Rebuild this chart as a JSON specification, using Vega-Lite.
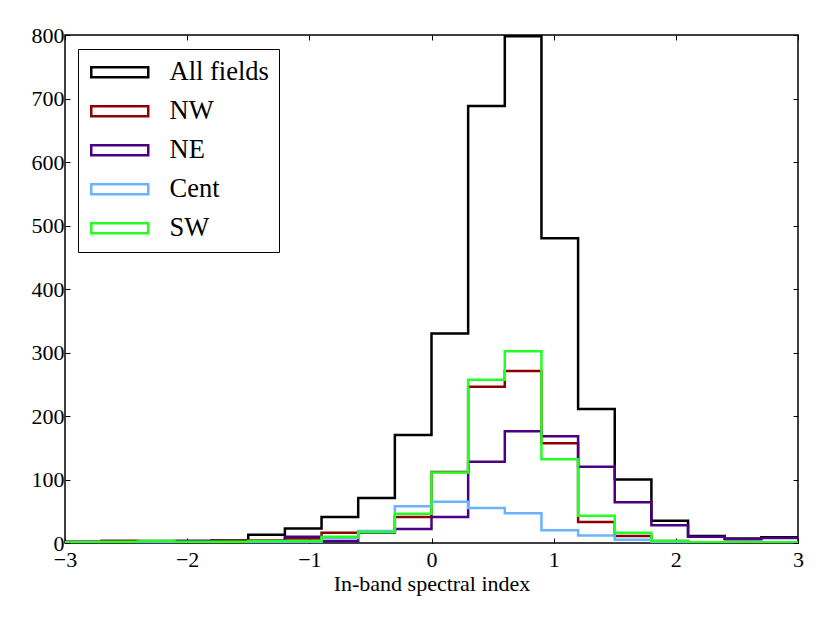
{
  "$schema": "https://vega.github.io/schema/vega-lite/v6.json",
  "autosize": {"type": "none"},
  "padding": {"left": 65, "top": 35, "right": 32, "bottom": 80},
  "width": 733,
  "height": 508,
  "background": "white",
  "data": {
    "values": [
      {"field": "All fields", "x": -3, "count": 2},
      {"field": "All fields", "x": -2.7, "count": 3},
      {"field": "All fields", "x": -2.4, "count": 3},
      {"field": "All fields", "x": -2.1, "count": 3},
      {"field": "All fields", "x": -1.8, "count": 4},
      {"field": "All fields", "x": -1.5, "count": 13},
      {"field": "All fields", "x": -1.2, "count": 23},
      {"field": "All fields", "x": -0.9, "count": 41},
      {"field": "All fields", "x": -0.6, "count": 71},
      {"field": "All fields", "x": -0.3, "count": 170},
      {"field": "All fields", "x": 0, "count": 330},
      {"field": "All fields", "x": 0.3, "count": 688},
      {"field": "All fields", "x": 0.6, "count": 798},
      {"field": "All fields", "x": 0.9, "count": 480},
      {"field": "All fields", "x": 1.2, "count": 211},
      {"field": "All fields", "x": 1.5, "count": 100},
      {"field": "All fields", "x": 1.8, "count": 35},
      {"field": "All fields", "x": 2.1, "count": 11},
      {"field": "All fields", "x": 2.4, "count": 7},
      {"field": "All fields", "x": 2.7, "count": 9},
      {"field": "All fields", "x": 3, "count": 9},
      {"field": "NW", "x": -3, "count": 0},
      {"field": "NW", "x": -2.7, "count": 3},
      {"field": "NW", "x": -2.4, "count": 2},
      {"field": "NW", "x": -2.1, "count": 2},
      {"field": "NW", "x": -1.8, "count": 3},
      {"field": "NW", "x": -1.5, "count": 4},
      {"field": "NW", "x": -1.2, "count": 7},
      {"field": "NW", "x": -0.9, "count": 16},
      {"field": "NW", "x": -0.6, "count": 18},
      {"field": "NW", "x": -0.3, "count": 41},
      {"field": "NW", "x": 0, "count": 112},
      {"field": "NW", "x": 0.3, "count": 246},
      {"field": "NW", "x": 0.6, "count": 271},
      {"field": "NW", "x": 0.9, "count": 157},
      {"field": "NW", "x": 1.2, "count": 33},
      {"field": "NW", "x": 1.5, "count": 11},
      {"field": "NW", "x": 1.8, "count": 3},
      {"field": "NW", "x": 2.1, "count": 1},
      {"field": "NW", "x": 2.4, "count": 1},
      {"field": "NW", "x": 2.7, "count": 1},
      {"field": "NW", "x": 3, "count": 1},
      {"field": "NE", "x": -3, "count": 0},
      {"field": "NE", "x": -2.7, "count": 1},
      {"field": "NE", "x": -2.4, "count": 1},
      {"field": "NE", "x": -2.1, "count": 3},
      {"field": "NE", "x": -1.8, "count": 1},
      {"field": "NE", "x": -1.5, "count": 1},
      {"field": "NE", "x": -1.2, "count": 10},
      {"field": "NE", "x": -0.9, "count": 3},
      {"field": "NE", "x": -0.6, "count": 16},
      {"field": "NE", "x": -0.3, "count": 22},
      {"field": "NE", "x": 0, "count": 41},
      {"field": "NE", "x": 0.3, "count": 128},
      {"field": "NE", "x": 0.6, "count": 176},
      {"field": "NE", "x": 0.9, "count": 168},
      {"field": "NE", "x": 1.2, "count": 120},
      {"field": "NE", "x": 1.5, "count": 64},
      {"field": "NE", "x": 1.8, "count": 28},
      {"field": "NE", "x": 2.1, "count": 10},
      {"field": "NE", "x": 2.4, "count": 6},
      {"field": "NE", "x": 2.7, "count": 8},
      {"field": "NE", "x": 3, "count": 8},
      {"field": "Cent", "x": -3, "count": 1},
      {"field": "Cent", "x": -2.7, "count": 0},
      {"field": "Cent", "x": -2.4, "count": 0},
      {"field": "Cent", "x": -2.1, "count": 0},
      {"field": "Cent", "x": -1.8, "count": 0},
      {"field": "Cent", "x": -1.5, "count": 1},
      {"field": "Cent", "x": -1.2, "count": 1},
      {"field": "Cent", "x": -0.9, "count": 8},
      {"field": "Cent", "x": -0.6, "count": 19},
      {"field": "Cent", "x": -0.3, "count": 58},
      {"field": "Cent", "x": 0, "count": 65},
      {"field": "Cent", "x": 0.3, "count": 55},
      {"field": "Cent", "x": 0.6, "count": 47},
      {"field": "Cent", "x": 0.9, "count": 20},
      {"field": "Cent", "x": 1.2, "count": 12},
      {"field": "Cent", "x": 1.5, "count": 5},
      {"field": "Cent", "x": 1.8, "count": 2},
      {"field": "Cent", "x": 2.1, "count": 1},
      {"field": "Cent", "x": 2.4, "count": 1},
      {"field": "Cent", "x": 2.7, "count": 1},
      {"field": "Cent", "x": 3, "count": 1},
      {"field": "SW", "x": -3, "count": 1},
      {"field": "SW", "x": -2.7, "count": 2},
      {"field": "SW", "x": -2.4, "count": 3},
      {"field": "SW", "x": -2.1, "count": 2},
      {"field": "SW", "x": -1.8, "count": 2},
      {"field": "SW", "x": -1.5, "count": 3},
      {"field": "SW", "x": -1.2, "count": 3},
      {"field": "SW", "x": -0.9, "count": 10},
      {"field": "SW", "x": -0.6, "count": 17},
      {"field": "SW", "x": -0.3, "count": 46},
      {"field": "SW", "x": 0, "count": 111},
      {"field": "SW", "x": 0.3, "count": 257},
      {"field": "SW", "x": 0.6, "count": 302},
      {"field": "SW", "x": 0.9, "count": 132},
      {"field": "SW", "x": 1.2, "count": 43},
      {"field": "SW", "x": 1.5, "count": 16},
      {"field": "SW", "x": 1.8, "count": 3},
      {"field": "SW", "x": 2.1, "count": 1},
      {"field": "SW", "x": 2.4, "count": 1},
      {"field": "SW", "x": 2.7, "count": 1},
      {"field": "SW", "x": 3, "count": 1}
    ]
  },
  "layer": [
    {
      "mark": {"type": "line", "interpolate": "step-after", "strokeWidth": 2.5, "clip": true},
      "encoding": {
        "x": {
          "field": "x",
          "type": "quantitative",
          "scale": {"domain": [-3, 3], "nice": false, "zero": false},
          "axis": {"orient": "bottom", "title": "In-band spectral index", "values": [-3, -2, -1, 0, 1, 2, 3], "format": "d", "labelPadding": 11, "titlePadding": 3}
        },
        "y": {
          "field": "count",
          "type": "quantitative",
          "scale": {"domain": [0, 800], "nice": false},
          "axis": {"orient": "left", "title": null, "values": [0, 100, 200, 300, 400, 500, 600, 700, 800], "labelPadding": 6}
        },
        "color": {
          "field": "field",
          "type": "nominal",
          "scale": {
            "domain": ["All fields", "NW", "NE", "Cent", "SW"],
            "range": ["#000000", "#8b0000", "#4b0082", "#6ab4ff", "#22ff22"]
          },
          "legend": {
            "orient": "none",
            "legendX": 13,
            "legendY": 14,
            "title": null,
            "symbolType": "M-1,-0.5H4.7V0.5H-1Z",
            "symbolSize": 400,
            "symbolStrokeWidth": 2.5,
            "symbolFillColor": "white",
            "labelFontSize": 26.5,
            "labelFont": "Liberation Serif",
            "labelColor": "black",
            "labelOffset": 55,
            "rowPadding": 12,
            "padding": 10,
            "strokeColor": "black",
            "fillColor": "white"
          }
        }
      }
    },
    {
      "mark": {"type": "line", "strokeOpacity": 0},
      "encoding": {
        "x": {
          "field": "x",
          "type": "quantitative",
          "axis": {"orient": "top", "title": null, "labels": false, "values": [-3, -2, -1, 0, 1, 2, 3]}
        },
        "y": {
          "field": "count",
          "type": "quantitative",
          "axis": {"orient": "right", "title": null, "labels": false, "values": [0, 100, 200, 300, 400, 500, 600, 700, 800]}
        }
      }
    }
  ],
  "resolve": {"axis": {"x": "independent", "y": "independent"}},
  "config": {
    "font": "Liberation Serif",
    "view": {"stroke": "black", "strokeWidth": 1.5},
    "axis": {
      "domain": false,
      "grid": false,
      "ticks": true,
      "tickSize": -5,
      "tickColor": "black",
      "tickWidth": 1,
      "labelFlush": false,
      "labelOverlap": false,
      "labelFont": "Liberation Serif",
      "labelFontSize": 22,
      "labelColor": "black",
      "titleFont": "Liberation Serif",
      "titleFontSize": 22,
      "titleFontWeight": "normal",
      "titleColor": "black"
    }
  }
}
